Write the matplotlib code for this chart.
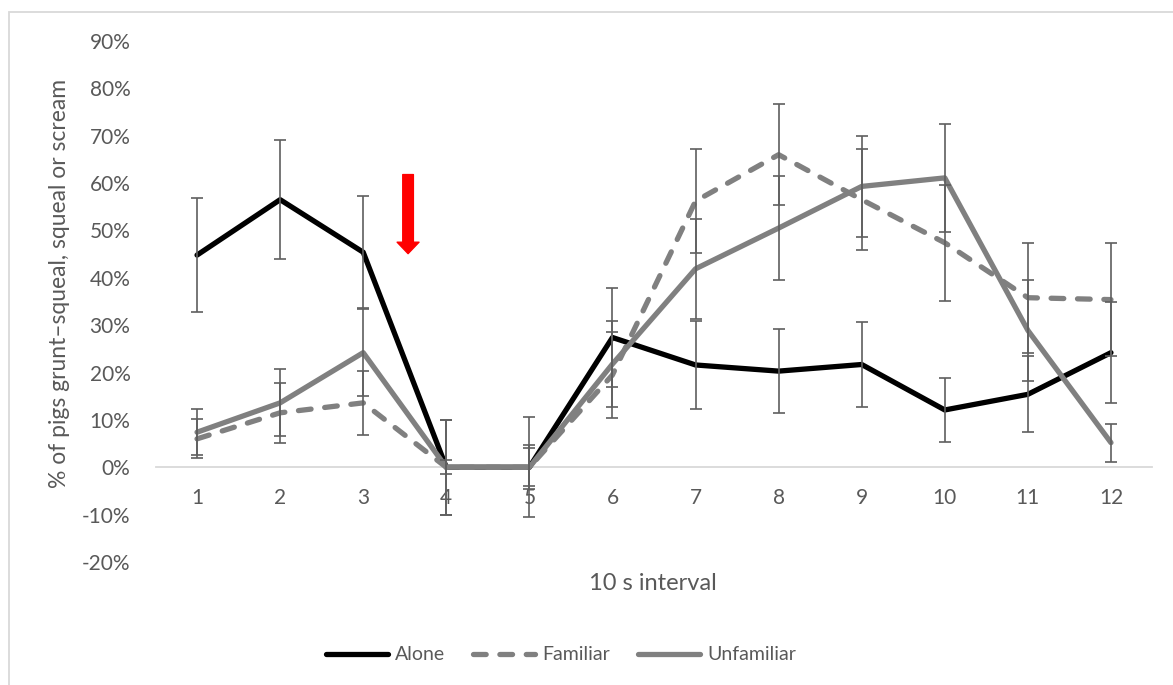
import numpy as np
import matplotlib
matplotlib.use('Agg')
import matplotlib.pyplot as plt
from matplotlib.patches import Rectangle
from matplotlib.ticker import FuncFormatter

plt.rcParams['font.family'] = ['Lato', 'DejaVu Sans']

# 10 s intervals
intervals = list(range(1, 13))

# % of pigs
alone = [44.8, 56.5, 45.4, 0, 0, 27.4, 21.6, 20.3, 21.7, 12.1, 15.4, 24.2]
alone_err = [12.1, 12.5, 11.8, 1.5, 10.6, 10.4, 9.2, 8.9, 9.0, 6.8, 8.0, 10.7]
familiar = [6.0, 11.5, 13.6, 0, 0, 19.5, 56.2, 66.0, 56.5, 47.4, 35.8, 35.4]
familiar_err = [4.1, 6.3, 6.7, 10.0, 4.0, 9.0, 10.9, 10.6, 10.6, 12.2, 11.6, 11.9]
unfamiliar = [7.4, 13.6, 24.2, 0, 0, 21.8, 41.9, 50.5, 59.3, 61.1, 28.9, 5.2]
unfamiliar_err = [4.8, 7.1, 9.2, 10.0, 4.6, 9.1, 10.6, 11.0, 10.6, 11.4, 10.6, 4.0]

# arrow marking the stimulus (x position, top, tip)
arrow_x = 3.54
arrow_top = 61.8
arrow_tip = 45.1

text_col = '#595959'
err_col = '#5f5f5f'
gray = '#808080'

fig = plt.figure(figsize=(11.73, 6.85), dpi=100)
ax = fig.add_axes([155.5/1173, 1-562/685, 997/1173, 521/685])

lw = 3.8
ax.plot(intervals, alone, color='black', lw=lw, solid_joinstyle='round',
        solid_capstyle='round', label='Alone', zorder=2)
ax.plot(intervals, familiar, color=gray, lw=lw, ls=(0, (2.4, 2.6)),
        dash_capstyle='round', dash_joinstyle='round', label='Familiar', zorder=2)
ax.plot(intervals, unfamiliar, color=gray, lw=lw, solid_joinstyle='round',
        solid_capstyle='round', label='Unfamiliar', zorder=2)

for vals, errs in [(alone, alone_err), (familiar, familiar_err), (unfamiliar, unfamiliar_err)]:
    ax.errorbar(intervals, vals, yerr=errs, fmt='none', ecolor=err_col,
                elinewidth=1.2, capsize=4.5, capthick=1.2, zorder=3)

ax.annotate('', xy=(arrow_x, arrow_tip), xytext=(arrow_x, arrow_top),
            arrowprops=dict(arrowstyle='simple,head_width=1.05,head_length=0.55,tail_width=0.51',
                            color='red', mutation_scale=15, shrinkA=0, shrinkB=0),
            zorder=4)

ax.set_xlim(0.5, 12.5)
ax.set_ylim(-20, 90)
ax.set_yticks(np.arange(-20, 91, 10))
ax.yaxis.set_major_formatter(FuncFormatter(lambda v, p: '{:.0f}%'.format(v)))
ax.set_xticks(intervals)

for s in ['top', 'right', 'left']:
    ax.spines[s].set_visible(False)
ax.spines['bottom'].set_position(('data', 0))
ax.spines['bottom'].set_color('#d9d9d9')
ax.spines['bottom'].set_linewidth(1.3)
ax.spines['bottom'].set_zorder(1)

ax.tick_params(axis='y', length=0, pad=18, labelsize=15, labelcolor=text_col)
ax.tick_params(axis='x', length=0, pad=15, labelsize=15, labelcolor=text_col)

fig.text(60/1173, 1-283/685, '% of pigs grunt\u2013squeal, squeal or scream', rotation=90,
         ha='center', va='center', fontsize=16.5, color=text_col)
fig.text(653/1173, 1-583/685, '10 s interval', ha='center', va='center',
         fontsize=17, color=text_col)

fig.legend(loc='center', bbox_to_anchor=(561/1173, 1-655/685), ncol=3, frameon=False,
           fontsize=14, handlelength=3.2, handletextpad=0.35, columnspacing=1.45,
           labelcolor=text_col)

fig.patches.append(Rectangle((9/1173, -0.05), 1.1, 1-12/685+0.05, transform=fig.transFigure,
                             fill=False, ec='#d9d9d9', lw=1.3))

fig.savefig('out.png', dpi=100)
